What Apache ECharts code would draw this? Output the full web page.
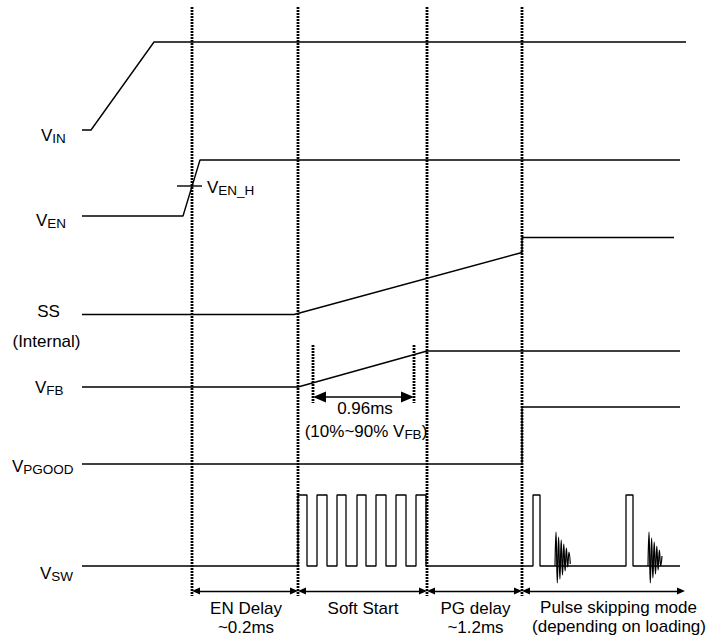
<!DOCTYPE html>
<html><head><meta charset="utf-8">
<script src="https://cdn.jsdelivr.net/npm/echarts@6/dist/echarts.min.js"></script>
<style>html,body{margin:0;padding:0;background:#fff}#c{width:718px;height:635px}</style>
</head><body><div id="c"></div>
<script>
// Diagram space: x = time position, y = level position (same units as the canvas, y downward)
const phaseBounds = [192, 298, 427, 522];
const guideTop = 7, guideBottom = 596;
const vinX = [82, 91, 154, 686];            const vinY = [130, 130, 42, 42];
const venX = [82, 183, 200, 680];           const venY = [216, 216, 160, 160];
const venHX = [177, 202];                   const venHY = [186, 186];
const ssX = [82, 294, 522, 522, 674];       const ssY = [314.5, 314.5, 252.5, 237.5, 237.5];
const vfbX = [82, 298, 427, 680];           const vfbY = [387, 387, 351, 351];
const pgX = [82, 522, 522, 680];            const pgY = [464, 464, 407, 407];
const swLow = 566, swHigh = 495;
const swRise = [298, 317, 337, 357, 376, 396, 416, 533, 626];
const swFall = [307, 327, 346, 366, 386, 406, 426, 540, 633];
const swStart = 82, swEnd = 680;
const ring1X = [555, 556, 557.3, 558.6, 559.9, 561.2, 562.5, 563.8, 565.1, 566.4, 567.7, 569, 570.3];
const ring1Y = [566, 532, 583, 537, 579, 540, 575, 544, 571, 548, 567, 552, 564];
const ring2X = [648, 649, 650.3, 651.6, 652.9, 654.2, 655.5, 656.8, 658.1, 659.4, 660.7, 662];
const ring2Y = [566, 532, 583, 538, 578, 542, 574, 546, 570, 550, 566, 556];
const fbMarkX = [313, 414];                 const fbMarkTop = 345, fbMarkBottom = 403, fbArrowY = 397;
const phaseArrowY = 591, lastArrowEnd = 685;

const FONT = "'Liberation Sans', Arial, Helvetica, sans-serif";
const zip = (xs, ys) => xs.map((x, i) => [x, ys[i]]);

// build switching waveform from edges
function buildSW() {
  const pts = [[swStart, swLow]];
  for (let i = 0; i < swRise.length; i++) {
    pts.push([swRise[i], swLow], [swRise[i], swHigh], [swFall[i], swHigh], [swFall[i], swLow]);
  }
  pts.push([swEnd, swLow]);
  return pts;
}

const sig = (data, w, smooth) => ({type: 'line', data, symbol: 'none', silent: true, smooth: smooth || false,
  lineStyle: {color: '#000', width: w || 1.4}, z: 3});
const guide = (x, y0, y1) => ({type: 'line', data: [[x, y0], [x, y1]], symbol: 'none', silent: true,
  lineStyle: {color: '#000', width: 2.8, type: [2, 1]}, z: 2});

const series = [
  sig(zip(vinX, vinY)), sig(zip(venX, venY)), sig(zip(venHX, venHY)),
  sig(zip(ssX, ssY)), sig(zip(vfbX, vfbY)), sig(zip(pgX, pgY)), sig(buildSW(), 1.3),
  sig(zip(ring1X, ring1Y), 1.2, 0.5), sig(zip(ring2X, ring2Y), 1.2, 0.5)
];
phaseBounds.forEach(x => series.push(guide(x, guideTop, guideBottom)));
fbMarkX.forEach(x => series.push(guide(x, fbMarkTop, fbMarkBottom)));

// arrows
const segs = [];
const bnds = phaseBounds.concat([lastArrowEnd]);
for (let i = 0; i < bnds.length - 1; i++) {
  segs.push([{coord: [bnds[i] + 4, phaseArrowY]}, {coord: [bnds[i + 1] - 4, phaseArrowY]}]);
}
series.push({type: 'line', data: [], symbol: 'none',
  markLine: {silent: true, symbol: ['triangle', 'triangle'], symbolSize: [7, 8], label: {show: false},
    lineStyle: {color: '#000', width: 1.4, type: 'solid'}, data: segs}});
series.push({type: 'line', data: [], symbol: 'none',
  markLine: {silent: true, symbol: ['triangle', 'triangle'], symbolSize: [11, 13], label: {show: false},
    lineStyle: {color: '#000', width: 1.6, type: 'solid'},
    data: [[{coord: [fbMarkX[0] + 6.5, fbArrowY]}, {coord: [fbMarkX[1] - 6.5, fbArrowY]}]]}});

const chart = echarts.init(document.getElementById('c'), null, {renderer: 'svg'});
chart.setOption({
  animation: false,
  backgroundColor: '#fff',
  grid: {left: 0, right: 0, top: 0, bottom: 0},
  xAxis: {type: 'value', min: 0, max: 718, show: false},
  yAxis: {type: 'value', min: 0, max: 635, inverse: true, show: false},
  series
});

// text labels: [x, y, text, align]
const rich = {
  m: {fontSize: 17, lineHeight: 20, fontFamily: FONT, fill: '#000'},
  s: {fontSize: 13.5, lineHeight: 12, verticalAlign: 'bottom', fontFamily: FONT, fill: '#000'}
};
const labels = [
  [41, 135, '{m|V}{s|IN}', 'left'],
  [36, 220, '{m|V}{s|EN}', 'left'],
  [48.5, 311, '{m|SS}', 'center'],
  [46.5, 341.5, '{m|(Internal)}', 'center'],
  [35, 387.5, '{m|V}{s|FB}', 'left'],
  [12, 466.5, '{m|V}{s|PGOOD}', 'left'],
  [40, 573, '{m|V}{s|SW}', 'left'],
  [207, 187, '{m|V}{s|EN_H}', 'left'],
  [365, 408.3, '{m|0.96ms}', 'center'],
  [366, 431.7, '{m|(10%~90% V}{s|FB}{m|)}', 'center'],
  [246, 608, '{m|EN Delay}', 'center'],
  [246, 627, '{m|~0.2ms}', 'center'],
  [363, 608, '{m|Soft Start}', 'center'],
  [475.5, 608, '{m|PG delay}', 'center'],
  [475.5, 627, '{m|~1.2ms}', 'center'],
  [618.5, 607, '{m|Pulse skipping mode}', 'center'],
  [619, 626.5, '{m|(depending on loading)}', 'center']
];
const graphic = labels.map(([x, y, t, a]) => {
  const p = chart.convertToPixel({gridIndex: 0}, [x, y]);
  return {type: 'text', x: p[0], y: p[1], silent: true, z: 10,
    style: {text: t, rich, align: a, verticalAlign: 'middle', font: '17px ' + FONT, fill: '#000'}};
});
chart.setOption({graphic});
</script>
</body></html>
